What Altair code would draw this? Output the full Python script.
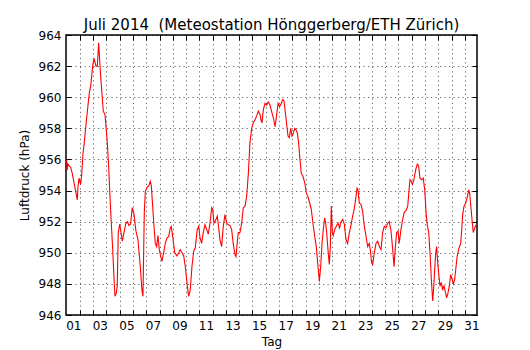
import altair as alt
import pandas as pd

days = [1.00, 1.03, 1.10, 1.17, 1.30, 1.42, 1.60, 1.73, 1.80, 1.85, 1.93, 2.05, 2.13, 2.23, 2.30, 2.51, 2.61, 2.71, 2.81, 2.96,
        3.06, 3.21, 3.31, 3.41, 3.56, 3.76, 3.89, 3.94, 4.06, 4.16, 4.31, 4.47, 4.56, 4.64, 4.74, 4.81, 4.89, 5.00, 5.19, 5.32,
        5.45, 5.57, 5.70, 5.82, 5.94, 6.07, 6.22, 6.37, 6.55, 6.67, 6.75, 6.85, 6.93, 7.05, 7.18, 7.30, 7.38, 7.48, 7.58, 7.68,
        7.78, 7.88, 7.98, 8.08, 8.18, 8.31, 8.43, 8.56, 8.69, 8.81, 8.88, 8.99, 9.14, 9.31, 9.44, 9.56, 9.69, 9.82, 9.94, 10.07,
        10.19, 10.31, 10.44, 10.57, 10.69, 10.84, 10.95, 11.05, 11.17, 11.29, 11.42, 11.55, 11.67, 11.80, 11.93, 12.00, 12.10, 12.23, 12.35, 12.43,
        12.55, 12.68, 12.80, 12.93, 13.06, 13.18, 13.31, 13.43, 13.55, 13.68, 13.76, 13.86, 13.93, 14.06, 14.19, 14.31, 14.44, 14.56, 14.69, 14.81,
        14.94, 15.06, 15.19, 15.32, 15.44, 15.57, 15.64, 15.72, 15.82, 15.94, 16.07, 16.19, 16.32, 16.47, 16.60, 16.70, 16.80, 16.93, 17.05, 17.17,
        17.28, 17.38, 17.48, 17.58, 17.68, 17.78, 17.88, 17.98, 18.08, 18.18, 18.28, 18.38, 18.48, 18.58, 18.68, 18.81, 18.94, 19.06, 19.18, 19.31,
        19.43, 19.56, 19.69, 19.81, 19.94, 20.04, 20.14, 20.24, 20.34, 20.44, 20.52, 20.59, 20.69, 20.79, 20.87, 20.94, 21.02, 21.09, 21.20, 21.32,
        21.45, 21.57, 21.67, 21.80, 21.92, 22.05, 22.17, 22.30, 22.43, 22.55, 22.67, 22.80, 22.88, 22.95, 23.05, 23.18, 23.30, 23.43, 23.55, 23.68,
        23.80, 23.88, 23.98, 24.06, 24.18, 24.31, 24.44, 24.56, 24.69, 24.81, 24.93, 25.06, 25.19, 25.31, 25.44, 25.57, 25.67, 25.77, 25.87, 25.97,
        26.06, 26.19, 26.32, 26.44, 26.57, 26.70, 26.80, 26.87, 26.97, 27.05, 27.17, 27.30, 27.42, 27.52, 27.62, 27.75, 27.87, 27.98, 28.08, 28.17,
        28.28, 28.38, 28.48, 28.58, 28.66, 28.73, 28.81, 28.88, 28.96, 29.03, 29.13, 29.23, 29.33, 29.43, 29.53, 29.63, 29.73, 29.83, 29.94, 30.04,
        30.14, 30.24, 30.34, 30.43, 30.56, 30.69, 30.77, 30.84, 30.94, 31.07, 31.19, 31.30, 31.37, 31.48, 31.57, 31.64, 31.75, 31.85]

pressure = [956.0, 955.3, 955.7, 955.6, 955.5, 955.1, 954.3, 953.7, 953.4, 954.2, 954.8, 954.4, 955.0, 956.4, 956.85, 958.7, 959.5, 960.3, 960.7, 962.0,
            962.5, 962.0, 962.0, 963.5, 961.35, 959.1, 958.9, 958.35, 957.1, 955.6, 952.8, 950.2, 948.5, 947.2, 947.4, 947.85, 951.3, 951.85, 950.75, 951.3,
            951.85, 952.0, 951.75, 951.85, 952.9, 952.5, 951.4, 950.85, 949.1, 947.6, 947.2, 952.6, 953.95, 954.2, 954.3, 954.6, 954.3, 953.0, 951.7, 950.6,
            950.4, 951.1, 950.2, 949.8, 949.45, 950.0, 950.6, 950.95, 951.05, 951.6, 951.7, 951.05, 950.0, 949.8, 950.0, 950.2, 950.0, 949.8, 949.1, 948.05,
            947.2, 947.6, 949.1, 950.1, 950.3, 951.5, 951.7, 950.95, 950.6, 951.3, 951.8, 951.5, 951.2, 951.9, 952.9, 952.8, 951.9, 952.1, 952.35, 951.8,
            950.85, 950.4, 951.7, 952.45, 951.9, 951.8, 951.75, 951.5, 950.6, 949.9, 949.75, 950.7, 951.3, 951.3, 951.9, 952.9, 953.0, 953.6, 955.1, 957.05,
            958.0, 958.35, 958.55, 958.8, 959.1, 958.9, 958.55, 958.35, 959.2, 959.6, 959.5, 959.7, 959.5, 959.0, 958.6, 958.1, 958.7, 959.6, 959.4, 959.6,
            959.85, 959.75, 959.0, 958.25, 957.5, 957.4, 958.0, 957.5, 957.7, 958.0, 957.9, 957.7, 957.05, 956.0, 955.1, 954.9, 954.5, 953.85, 953.6, 953.2,
            952.8, 951.9, 951.05, 950.4, 949.1, 948.15, 949.1, 950.6, 951.5, 952.25, 951.9, 951.3, 950.2, 949.25, 950.4, 953.0, 951.3, 951.1, 951.5, 951.7,
            951.9, 951.6, 952.0, 952.15, 951.85, 950.85, 950.6, 951.3, 951.8, 952.35, 952.8, 953.6, 954.15, 954.05, 953.2, 953.1, 952.7, 951.7, 951.1, 950.4,
            950.6, 950.2, 949.35, 949.25, 950.0, 950.6, 950.75, 950.4, 950.2, 951.3, 951.7, 951.6, 951.9, 952.0, 951.4, 950.2, 949.1, 950.4, 951.3, 951.4,
            950.6, 951.5, 952.15, 952.6, 952.7, 953.0, 954.05, 954.7, 954.6, 954.4, 954.7, 955.35, 955.7, 955.6, 954.8, 954.7, 954.8, 954.05, 952.6, 951.8,
            951.3, 950.0, 948.3, 946.9, 947.8, 948.9, 950.0, 950.4, 949.35, 948.7, 947.85, 948.1, 947.6, 947.9, 947.5, 947.1, 947.4, 947.85, 948.6, 948.3,
            948.0, 948.3, 949.1, 949.8, 950.3, 950.6, 951.5, 952.45, 953.0, 953.2, 953.6, 954.05, 953.8, 952.75, 951.9, 951.3, 951.6, 951.8]

label_days = [d + 0.5 for d in range(1, 32, 2)]
tick_days = list(range(2, 32))
y_ticks = list(range(946, 965, 2))

title_text = "Juli 2014\u00a0 (Meteostation Hönggerberg/ETH Zürich)"
x_title = "Tag"
y_title = "Luftdruck (hPa)"

W, H = 411, 280
df = pd.DataFrame({"day": days, "p": pressure})

xscale = alt.Scale(domain=[0.95, 31.92], nice=False, zero=False)
yscale = alt.Scale(domain=[946, 964], nice=False, zero=False)

label_expr = "(floor(datum.value) < 10 ? '0' : '') + floor(datum.value)"
grid_dash = [1.2, 3.3]

base = alt.Chart(df)

main = base.mark_line(color="#ff0000", strokeWidth=1.1).encode(
    x=alt.X("day:Q", scale=xscale,
            axis=alt.Axis(orient="bottom", values=label_days, labelExpr=label_expr,
                          ticks=False, grid=False, domain=False, title=x_title,
                          labelPadding=5, titlePadding=5)),
    y=alt.Y("p:Q", scale=yscale,
            axis=alt.Axis(orient="left", values=y_ticks, ticks=False, domain=False,
                          grid=True, gridColor="black", gridDash=grid_dash, gridWidth=0.6,
                          title=y_title, labelPadding=5, titlePadding=7)),
)

ticks_a = base.mark_line(strokeOpacity=0).encode(
    x=alt.X("day:Q", scale=xscale,
            axis=alt.Axis(orient="top", offset=-H, values=tick_days, labels=False,
                          ticks=True, tickSize=5, tickColor="black", tickWidth=1,
                          domain=False, grid=True, gridColor="black", gridDash=grid_dash,
                          gridWidth=0.6, title=None)),
    y=alt.Y("p:Q", scale=yscale,
            axis=alt.Axis(orient="right", offset=-W, values=y_ticks, labels=False,
                          ticks=True, tickSize=5, tickColor="black", tickWidth=1,
                          domain=False, grid=False, title=None)),
)

ticks_b = base.mark_line(strokeOpacity=0).encode(
    x=alt.X("day:Q", scale=xscale,
            axis=alt.Axis(orient="bottom", offset=-H, values=tick_days, labels=False,
                          ticks=True, tickSize=5, tickColor="black", tickWidth=1,
                          domain=False, grid=False, title=None)),
    y=alt.Y("p:Q", scale=yscale,
            axis=alt.Axis(orient="left", offset=-W, values=y_ticks, labels=False,
                          ticks=True, tickSize=5, tickColor="black", tickWidth=1,
                          domain=False, grid=False, title=None)),
)

chart = alt.layer(main, ticks_a, ticks_b).resolve_axis(
    x="independent", y="independent"
).properties(
    width=W, height=H,
    title=alt.TitleParams(title_text, anchor="middle", fontSize=15, font="DejaVu Sans",
                          fontWeight="normal", color="black", offset=-4, frame="group"),
    autosize=alt.AutoSizeParams(type="none"),
    padding={"left": 58, "top": 27, "right": 45, "bottom": 34},
).configure_view(
    stroke="black", strokeWidth=1.5
).configure_axis(
    labelFont="DejaVu Sans", labelFontSize=12, labelColor="black",
    titleFont="DejaVu Sans", titleFontSize=12, titleColor="black", titleFontWeight="normal",
)

chart.save("out.html", embed_options={"renderer": "svg", "actions": False})
